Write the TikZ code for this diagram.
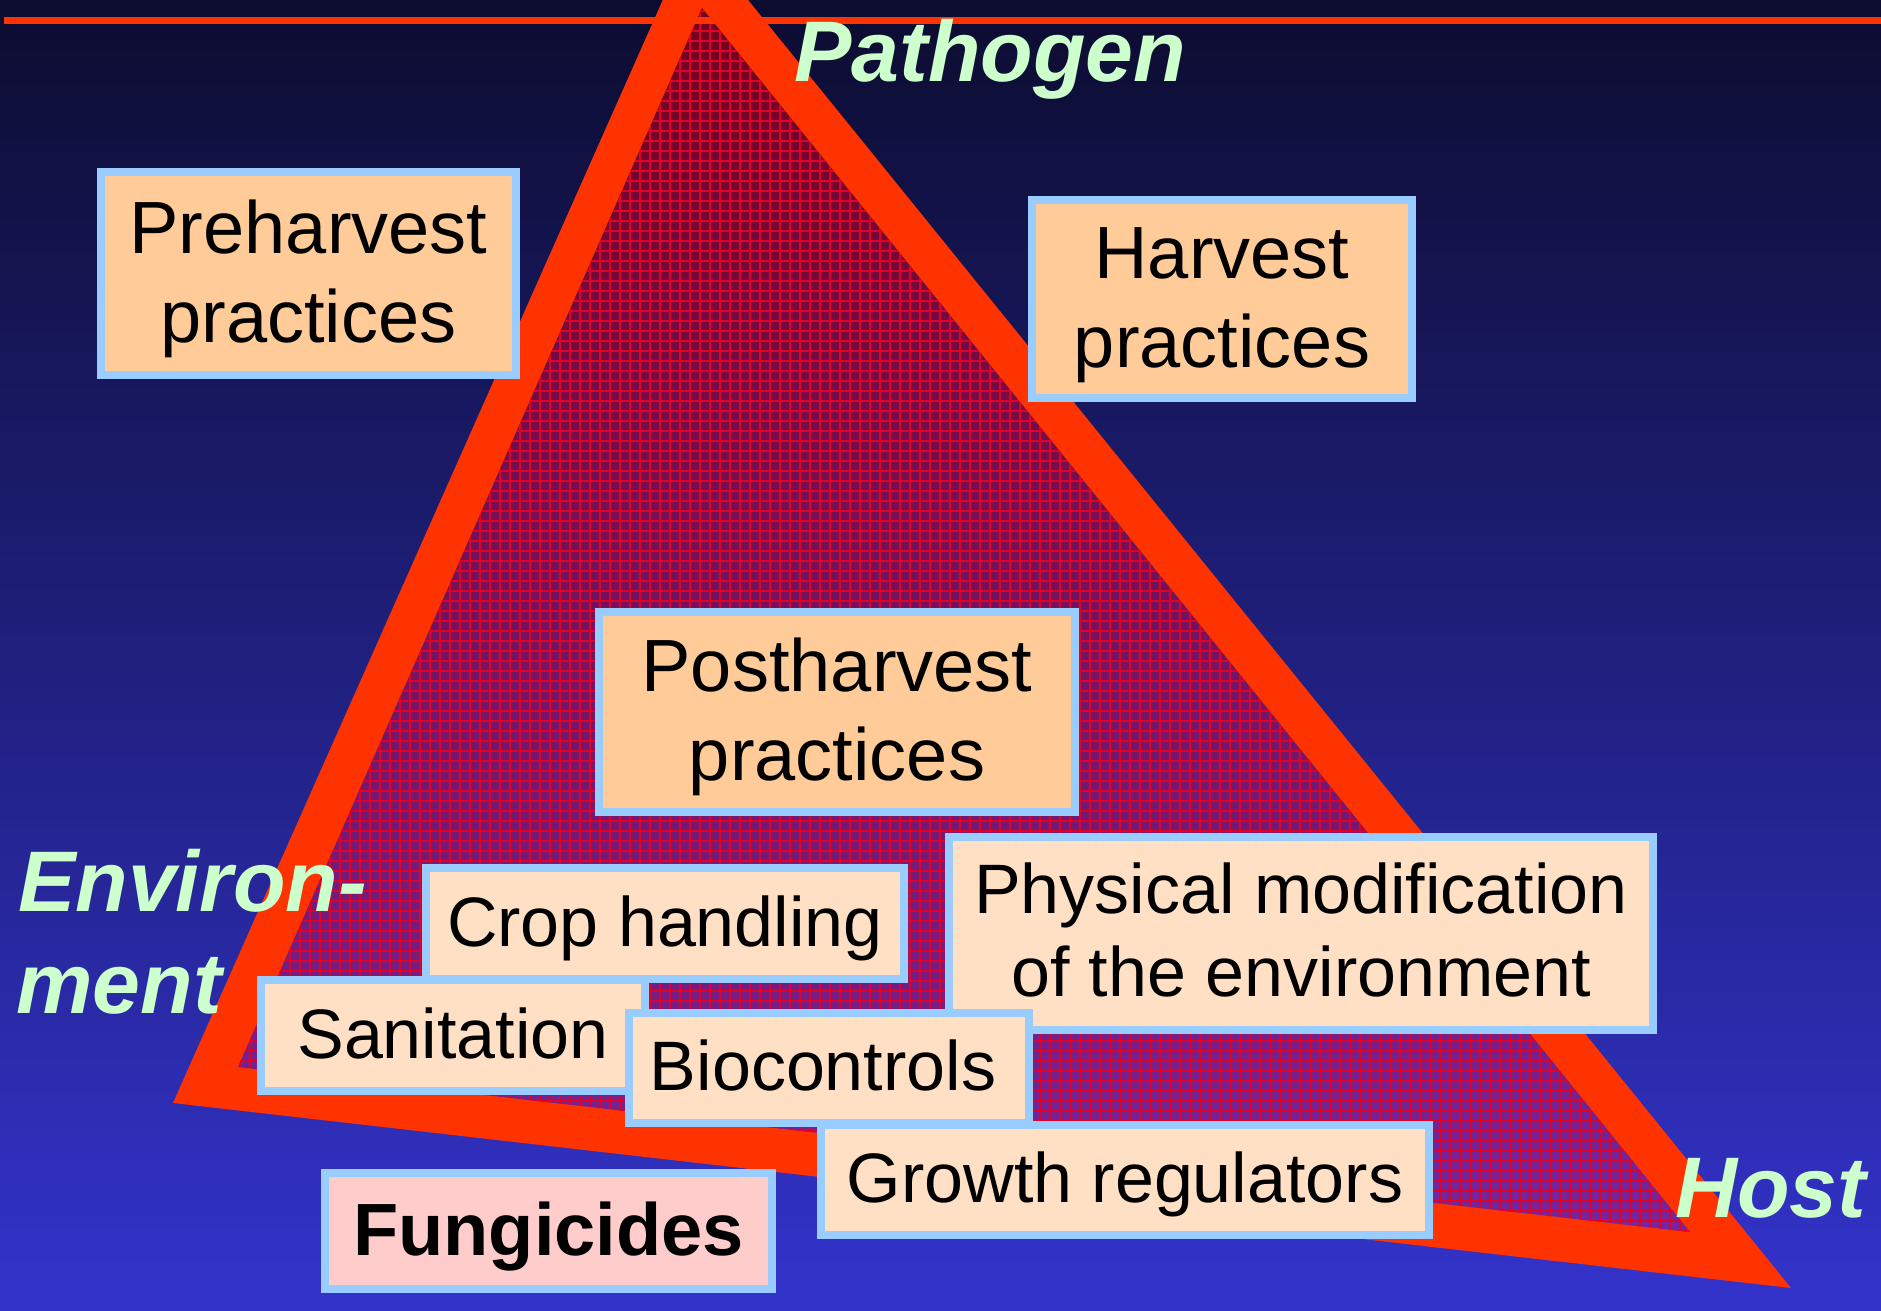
\documentclass[tikz,border=0pt]{standalone}
\usepackage{fontspec}
\setmainfont{Liberation Sans}
\usetikzlibrary{patterns.meta}
\definecolor{bgtop}{RGB}{12,12,48}
\definecolor{bgmid}{RGB}{38,38,150}
\definecolor{bgbot}{RGB}{51,51,204}
\definecolor{trired}{RGB}{255,51,0}
\definecolor{intop}{RGB}{115,0,30}
\definecolor{inmid}{RGB}{130,15,85}
\definecolor{inbot}{RGB}{115,38,160}
\definecolor{gridred}{RGB}{225,0,40}
\definecolor{boxline}{RGB}{153,204,255}
\definecolor{peach}{RGB}{255,204,153}
\definecolor{bisque}{RGB}{255,224,196}
\definecolor{pinkfill}{RGB}{255,204,204}
\definecolor{labgreen}{RGB}{204,255,204}
\tikzset{
  boxbase/.style={draw=boxline, line width=8pt, inner sep=0pt, align=center},
  bigbox/.style={boxbase, fill=peach, font=\fontsize{74}{89}\selectfont},
  smallbox/.style={boxbase, fill=bisque, font=\fontsize{70}{83}\selectfont, text height=59pt, text depth=14pt},
  lab/.style={inner sep=0pt, anchor=base west, text=labgreen, font=\fontsize{86}{100}\selectfont\bfseries\itshape},
  gridtex/.style={pattern={Lines[angle=#1,distance=10pt,line width=1.4pt]}, pattern color=gridred, fill opacity=0.75},
}
\begin{document}
\begin{tikzpicture}[x=1pt,y=-1pt]
\useasboundingbox (0,0) rectangle (1881,1311);
\shade[top color=bgtop, middle color=bgmid, bottom color=bgbot] (0,0) rectangle (1881,1311);
% triangle
\fill[trired] (693,-68) -- (173,1103) -- (1791,1288) -- cycle;
\shade[top color=intop, middle color=inmid, bottom color=inbot] (702,8) -- (238,1067) -- (1690,1232) -- cycle;
\fill[gridtex=0] (702,8) -- (238,1067) -- (1690,1232) -- cycle;
\fill[gridtex=90] (702,8) -- (238,1067) -- (1690,1232) -- cycle;
\fill[trired] (4,17) rectangle (1881,24);
% labels
\node[lab] (pathogen) at (794,82) {Pathogen};
\node[lab] (env1) at (18,911) {Environ-};
\node[lab] (env2) at (16,1013) {ment};
\node[lab] (host) at (1675,1217) {Host};
% boxes
\node[bigbox, minimum width=415pt, minimum height=203pt] (pre) at (308.5,273.5) {\rule{0pt}{64pt}Preharvest\\practices};
\node[bigbox, minimum width=380pt, minimum height=198pt] (harv) at (1222,299) {\rule{0pt}{64pt}Harvest\\practices};
\node[bigbox, minimum width=476pt, minimum height=200pt] (post) at (837,712) {\rule{0pt}{64pt}Postharvest\\practices};
\node[boxbase, fill=bisque, font=\fontsize{70}{83}\selectfont, minimum width=704pt, minimum height=193pt] (phys) at (1301,933.5) {Physical modification\\of the environment\rule[-7pt]{0pt}{0pt}};
\node[smallbox, minimum width=384pt, minimum height=111pt] (sanit) at (453,1035.5) {Sanitation};
\node[smallbox, minimum width=478pt, minimum height=111pt] (crop) at (665,923.5) {Crop handling};
\node[smallbox, minimum width=400pt, minimum height=110pt] (bio) at (829,1068) {Biocontrols\hspace*{12pt}};
\node[smallbox, minimum width=608pt, minimum height=110pt] (growth) at (1125,1180) {Growth regulators};
\node[boxbase, fill=pinkfill, font=\fontsize{74}{89}\selectfont\bfseries, text height=62pt, text depth=14pt, minimum width=447pt, minimum height=116pt] (fung) at (548.5,1231) {Fungicides};
\end{tikzpicture}
\end{document}
